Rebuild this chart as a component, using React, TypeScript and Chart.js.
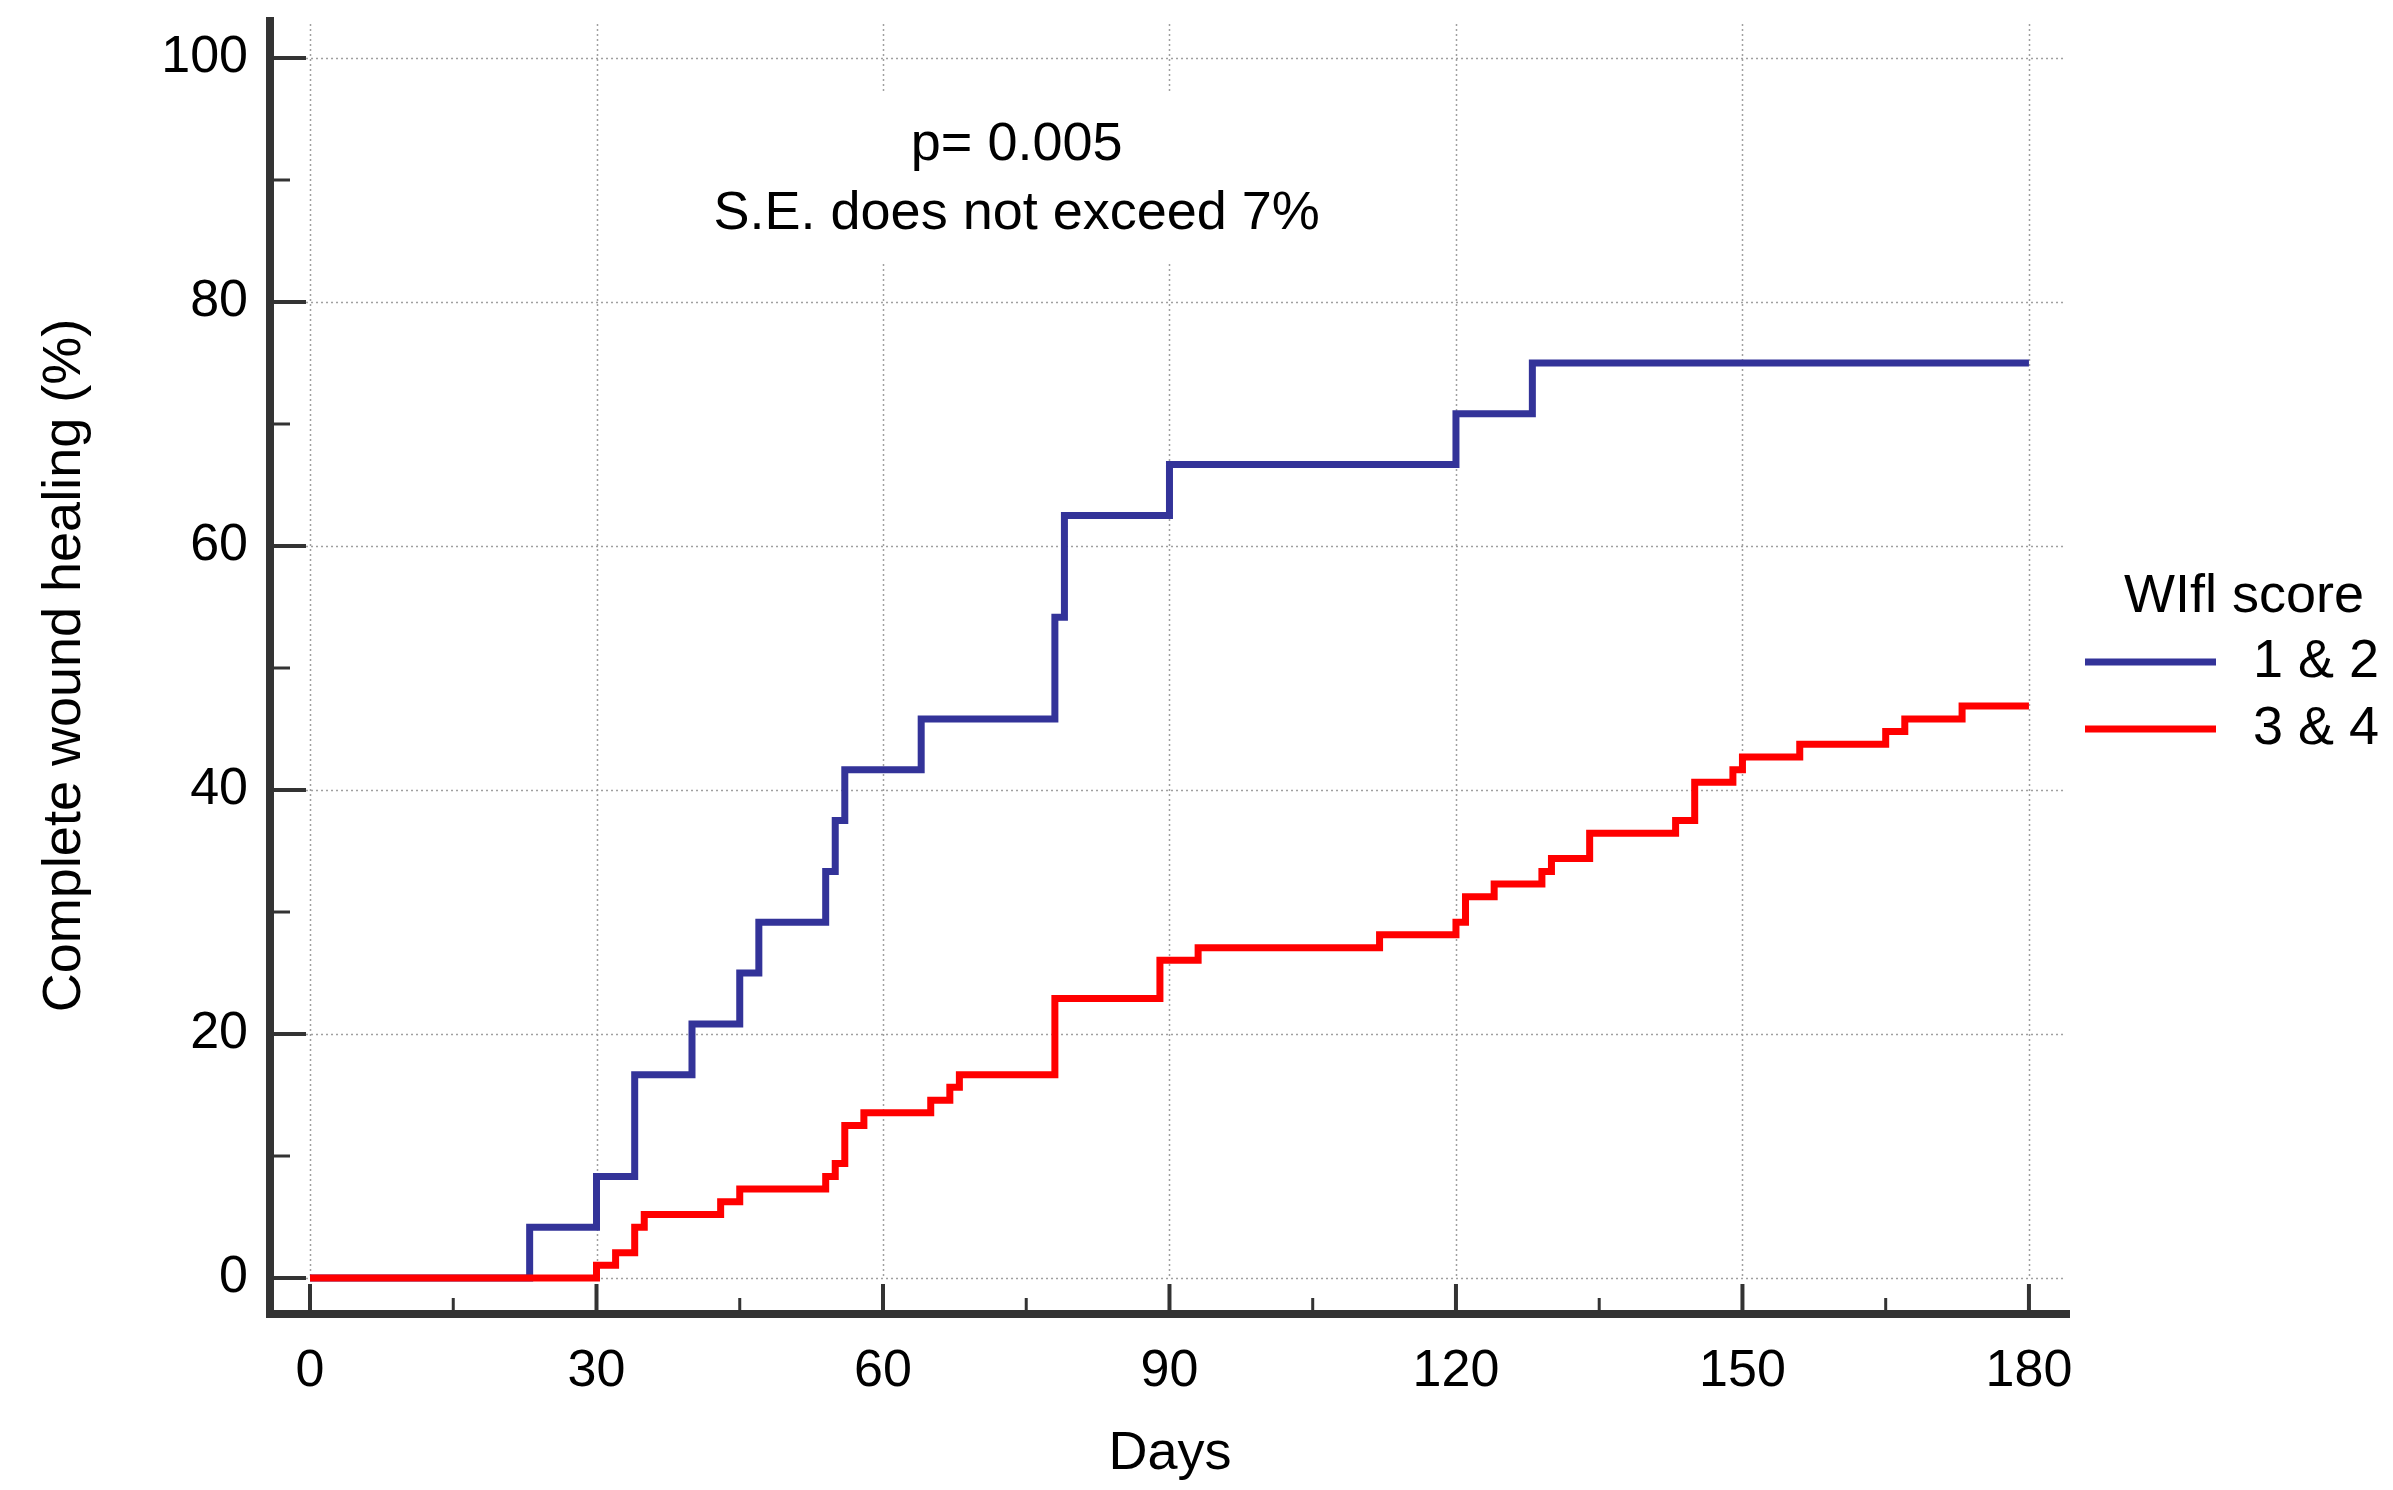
import React, { useEffect, useRef } from 'react';
import { Chart, registerables } from 'chart.js';

Chart.register(...registerables);

// ---- Data (Kaplan–Meier steps: day at which value changes, new value %) ----
const blueDays = [0, 23, 30, 34, 40, 45, 47, 54, 55, 56, 64, 78, 79, 90, 120, 128, 180];
const blueValues = [0, 4.17, 8.33, 16.67, 20.83, 25.0, 29.17, 33.33, 37.5, 41.67, 45.83, 54.17, 62.5, 66.67, 70.83, 75.0, 75.0];

const redDays = [0, 30, 32, 34, 35, 43, 45, 54, 55, 56, 58, 65, 67, 68, 78, 89, 93, 112, 120, 121, 124, 129, 130, 134, 143, 145, 149, 150, 156, 165, 167, 173, 180];
const redValues = [0, 1.04, 2.08, 4.17, 5.21, 6.25, 7.29, 8.33, 9.38, 12.5, 13.54, 14.58, 15.63, 16.67, 22.92, 26.04, 27.08, 28.13, 29.17, 31.25, 32.29, 33.33, 34.38, 36.46, 37.5, 40.63, 41.67, 42.71, 43.75, 44.79, 45.83, 46.88, 46.88];

const seriesLabels = ['1 & 2', '3 & 4'];
const seriesColors = ['#333399', '#ff0000'];
const legendTitle = 'WIfl score';

const xMajorTicks = [0, 30, 60, 90, 120, 150, 180];
const xMinorTicks = [15, 45, 75, 105, 135, 165];
const yMajorTicks = [0, 20, 40, 60, 80, 100];
const yMinorTicks = [10, 30, 50, 70, 90];

const xTitle = 'Days';
const yTitle = 'Complete wound healing (%)';
const annotationLines = ['p= 0.005', 'S.E. does not exceed 7%'];
const annotationDay = 74;
const annotationValues = [92.9, 87.2];

const X_MIN = -4.19;
const X_MAX = 184.3;
const Y_MIN = -2.95;
const Y_MAX = 103.36;

const FONT = "'Liberation Sans', Arial, Helvetica, sans-serif";
const AXIS_COLOR = '#333333';

const toPoints = (days: number[], vals: number[]) => days.map((d, i) => ({ x: d, y: vals[i] }));

const decorPlugin = {
  id: 'kmDecor',
  beforeDraw(chart: any) {
    const { ctx, width, height } = chart;
    ctx.save();
    ctx.fillStyle = '#ffffff';
    ctx.fillRect(0, 0, width, height);
    ctx.restore();
  },
  beforeDatasetsDraw(chart: any) {
    const { ctx, chartArea } = chart;
    const xs = chart.scales.x;
    const ys = chart.scales.y;
    ctx.save();
    ctx.strokeStyle = '#a0a0a0';
    ctx.lineWidth = 1.5;
    ctx.setLineDash([2, 3]);
    const y0 = ys.getPixelForValue(0);
    const x0 = xs.getPixelForValue(0);
    xMajorTicks.forEach((v) => {
      const px = Math.round(xs.getPixelForValue(v)) + 0.5;
      ctx.beginPath();
      ctx.moveTo(px, chartArea.top + 7);
      ctx.lineTo(px, y0);
      ctx.stroke();
    });
    yMajorTicks.forEach((v) => {
      const py = Math.round(ys.getPixelForValue(v)) + 0.5;
      ctx.beginPath();
      ctx.moveTo(x0 - 4, py);
      ctx.lineTo(chartArea.right - 5, py);
      ctx.stroke();
    });
    ctx.setLineDash([]);

    // annotation box + text
    ctx.font = `54px ${FONT}`;
    const cx = xs.getPixelForValue(annotationDay);
    const ly = annotationValues.map((v) => ys.getPixelForValue(v));
    const w = Math.max(...annotationLines.map((t) => ctx.measureText(t).width)) + 30;
    ctx.fillStyle = '#ffffff';
    ctx.fillRect(cx - w / 2, ly[0] - 52, w, ly[1] - ly[0] + 101);
    ctx.fillStyle = '#000000';
    ctx.textAlign = 'center';
    ctx.textBaseline = 'middle';
    annotationLines.forEach((t, i) => ctx.fillText(t, cx, ly[i]));
    ctx.restore();
  },
  afterDatasetsDraw(chart: any) {
    const { ctx, chartArea } = chart;
    const xs = chart.scales.x;
    const ys = chart.scales.y;
    const y0 = ys.getPixelForValue(0);
    const x0 = xs.getPixelForValue(0);
    ctx.save();
    ctx.strokeStyle = AXIS_COLOR;
    ctx.lineCap = 'butt';
    // axis lines
    ctx.lineWidth = 8;
    ctx.beginPath();
    ctx.moveTo(chartArea.left, chartArea.top);
    ctx.lineTo(chartArea.left, chartArea.bottom + 4);
    ctx.stroke();
    ctx.beginPath();
    ctx.moveTo(chartArea.left - 4, chartArea.bottom);
    ctx.lineTo(chartArea.right, chartArea.bottom);
    ctx.stroke();
    // y ticks
    ctx.lineWidth = 4;
    yMajorTicks.forEach((v) => {
      const py = ys.getPixelForValue(v);
      ctx.beginPath();
      ctx.moveTo(chartArea.left + 4, py);
      ctx.lineTo(x0 - 4, py);
      ctx.stroke();
    });
    ctx.lineWidth = 3;
    yMinorTicks.forEach((v) => {
      const py = ys.getPixelForValue(v);
      ctx.beginPath();
      ctx.moveTo(chartArea.left + 4, py);
      ctx.lineTo(chartArea.left + 20, py);
      ctx.stroke();
    });
    // x ticks
    ctx.lineWidth = 4;
    xMajorTicks.forEach((v) => {
      const px = xs.getPixelForValue(v);
      ctx.beginPath();
      ctx.moveTo(px, chartArea.bottom - 4);
      ctx.lineTo(px, y0 + 6);
      ctx.stroke();
    });
    ctx.lineWidth = 3;
    xMinorTicks.forEach((v) => {
      const px = xs.getPixelForValue(v);
      ctx.beginPath();
      ctx.moveTo(px, chartArea.bottom - 4);
      ctx.lineTo(px, chartArea.bottom - 16);
      ctx.stroke();
    });

    // legend
    const lx = chartArea.right;
    ctx.font = `54px ${FONT}`;
    ctx.fillStyle = '#000000';
    ctx.textAlign = 'left';
    ctx.textBaseline = 'middle';
    ctx.fillText(legendTitle, lx + 54, 597);
    chart.data.datasets.forEach((ds: any, i: number) => {
      const ly = 662 + i * 67;
      ctx.strokeStyle = ds.borderColor;
      ctx.lineWidth = 7;
      ctx.beginPath();
      ctx.moveTo(lx + 15, ly);
      ctx.lineTo(lx + 146, ly);
      ctx.stroke();
      ctx.fillStyle = '#000000';
      ctx.fillText(ds.label, lx + 183, ly);
    });
    ctx.restore();
  },
};

export default function App() {
  const canvasRef = useRef<HTMLCanvasElement | null>(null);

  useEffect(() => {
    const canvas = canvasRef.current;
    if (!canvas) return;
    const chart = new Chart(canvas, {
      type: 'line',
      data: {
        datasets: [
          {
            label: seriesLabels[0],
            data: toPoints(blueDays, blueValues),
            borderColor: seriesColors[0],
            backgroundColor: seriesColors[0],
            borderWidth: 7,
            pointRadius: 0,
            stepped: 'before',
            fill: false,
            order: 1,
          },
          {
            label: seriesLabels[1],
            data: toPoints(redDays, redValues),
            borderColor: seriesColors[1],
            backgroundColor: seriesColors[1],
            borderWidth: 7,
            pointRadius: 0,
            stepped: 'before',
            fill: false,
            order: 0,
          },
        ],
      },
      options: {
        animation: false,
        responsive: true,
        maintainAspectRatio: false,
        devicePixelRatio: 1,
        layout: { padding: { top: 17, right: 323, left: 0, bottom: 0 } },
        plugins: {
          legend: { display: false },
          tooltip: { enabled: false },
        },
        scales: {
          x: {
            type: 'linear',
            min: X_MIN,
            max: X_MAX,
            afterBuildTicks: (s: any) => {
              s.ticks = xMajorTicks.map((v) => ({ value: v }));
            },
            afterFit: (s: any) => {
              s.height = 176;
              s.paddingLeft = 0;
              s.paddingRight = 0;
            },
            grid: { display: false, drawTicks: false, tickLength: 0 },
            border: { display: false },
            ticks: {
              autoSkip: false,
              maxRotation: 0,
              minRotation: 0,
              padding: 26,
              color: '#000000',
              font: { family: FONT, size: 52 },
              callback: (v: any) => String(v),
            },
            title: {
              display: true,
              text: xTitle,
              color: '#000000',
              font: { family: FONT, size: 54, lineHeight: 1 },
              padding: { top: 0, bottom: 9 },
            },
          },
          y: {
            type: 'linear',
            min: Y_MIN,
            max: Y_MAX,
            afterBuildTicks: (s: any) => {
              s.ticks = yMajorTicks.map((v) => ({ value: v }));
            },
            afterFit: (s: any) => {
              s.width = 270;
              s.paddingTop = 0;
              s.paddingBottom = 0;
            },
            grid: { display: false, drawTicks: false, tickLength: 0 },
            border: { display: false },
            ticks: {
              padding: 22,
              color: '#000000',
              font: { family: FONT, size: 52 },
              callback: (v: any) => String(v),
            },
            title: {
              display: true,
              text: yTitle,
              color: '#000000',
              font: { family: FONT, size: 54, lineHeight: 1 },
              padding: { top: 38, bottom: 0 },
            },
          },
        },
      },
      plugins: [decorPlugin],
    } as any);
    return () => chart.destroy();
  }, []);

  return (
    <div style={{ position: 'fixed', left: 0, top: 0, width: 2393, height: 1490, background: '#ffffff' }}>
      <canvas ref={canvasRef} />
    </div>
  );
}
